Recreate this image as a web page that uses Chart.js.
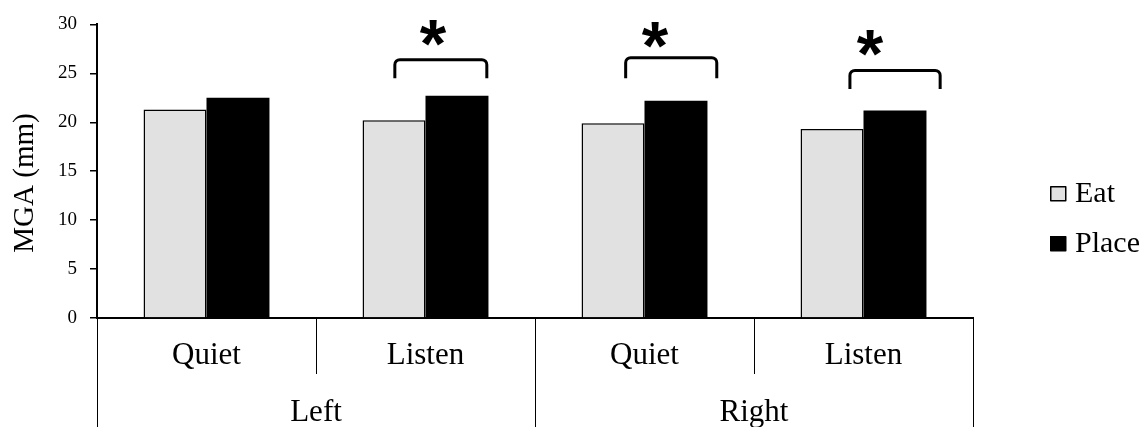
<!DOCTYPE html>
<html>
<head>
<meta charset="utf-8">
<script src="https://cdn.jsdelivr.net/npm/chart.js@4.4.1/dist/chart.umd.min.js"></script>
<style>
  html, body { margin: 0; padding: 0; background: #fff; }
  #wrap { width: 1146px; height: 427px; position: relative; }
</style>
</head>
<body>
<div id="wrap"><canvas id="chart-mga"></canvas></div>
<script>
// MGA by hand / condition / action
const sides = ['Left', 'Right'];
const conditions = ['Quiet', 'Listen', 'Quiet', 'Listen'];
const eatValues = [21.3, 20.2, 19.9, 19.3];
const placeValues = [22.5, 22.7, 22.2, 21.2];
const yTitle = 'MGA (mm)';

// significance brackets: category index, bracket top / leg bottom / star centre (mm)
const sigIndex = [1, 2, 3];
const sigTop = [26.4, 26.6, 25.3];
const sigBottom = [24.5, 24.5, 23.4];
const sigStar = [29.1, 28.9, 28.1];

// bracket extent as fraction of category width, from category centre
const bracketFrom = [-0.14, -0.086, -0.062];
const bracketTo = [0.28, 0.33, 0.35];
const starShift = [0.034, 0.048, 0.03];

const serif = "'Liberation Serif', 'Times New Roman', serif";

const extras = {
    id: 'extras',
    afterDraw(chart) {
        const ctx = chart.ctx;
        const x = chart.scales.x;
        const y = chart.scales.y;
        const area = chart.chartArea;
        const n = conditions.length;
        const catW = (x.right - x.left) / n;
        const H = chart.height;

        ctx.save();

        // y title
        ctx.fillStyle = '#000';
        ctx.font = `29px ${serif}`;
        ctx.textAlign = 'center';
        ctx.textBaseline = 'middle';
        ctx.translate(25, 183);
        ctx.rotate(-Math.PI / 2);
        ctx.fillText(yTitle, 0, 0);
        ctx.setTransform(1, 0, 0, 1, 0, 0);

        // side group separators + labels
        const per = n / sides.length;
        ctx.strokeStyle = '#000';
        ctx.lineWidth = 1;
        for (let g = 0; g <= sides.length; g++) {
            const px = Math.round(x.left + g * per * catW) + 0.5;
            ctx.beginPath();
            ctx.moveTo(px, area.bottom);
            ctx.lineTo(px, H);
            ctx.stroke();
        }
        ctx.font = `31px ${serif}`;
        ctx.textBaseline = 'alphabetic';
        sides.forEach((s, g) => {
            const cx = x.left + (g + 0.5) * per * catW;
            ctx.fillText(s, cx, 421);
        });

        // brackets and stars
        ctx.lineWidth = 3;
        ctx.lineJoin = 'round';
        sigIndex.forEach((idx, i) => {
            const c = x.getPixelForValue(idx);
            const x1 = c + bracketFrom[i] * catW;
            const x2 = c + bracketTo[i] * catW;
            const yt = y.getPixelForValue(sigTop[i]);
            const yb = y.getPixelForValue(sigBottom[i]);
            const r = 5;
            ctx.beginPath();
            ctx.moveTo(x1, yb);
            ctx.lineTo(x1, yt + r);
            ctx.arcTo(x1, yt, x1 + r, yt, r);
            ctx.lineTo(x2 - r, yt);
            ctx.arcTo(x2, yt, x2, yt + r, r);
            ctx.lineTo(x2, yb);
            ctx.stroke();

            ctx.font = `bold 68px 'Liberation Sans', Arial, sans-serif`;
            ctx.textAlign = 'center';
            ctx.textBaseline = 'alphabetic';
            const m = ctx.measureText('*');
            const sy = y.getPixelForValue(sigStar[i]);
            const base = sy + (m.actualBoundingBoxAscent - m.actualBoundingBoxDescent) / 2;
            ctx.fillText('*', c + starShift[i] * catW, base);
        });

        // legend
        ctx.font = `30px ${serif}`;
        ctx.textAlign = 'left';
        ctx.textBaseline = 'alphabetic';
        chart.data.datasets.forEach((ds, i) => {
            const by = 186 + i * 50;
            ctx.fillStyle = ds.backgroundColor;
            ctx.fillRect(1050, by, 16, 15);
            ctx.strokeStyle = '#000';
            ctx.lineWidth = 1.5;
            ctx.strokeRect(1050.75, by + 0.75, 15, 14);
            ctx.fillStyle = '#000';
            ctx.fillText(ds.label, 1075, by + 16);
        });

        ctx.restore();
    }
};

const options = {
    responsive: true,
    maintainAspectRatio: false,
    animation: false,
    layout: { padding: { top: 24, right: 173, bottom: 0, left: 0 } },
    plugins: { legend: { display: false }, tooltip: { enabled: false } },
    datasets: {
        bar: { categoryPercentage: 0.575, barPercentage: 1 }
    },
    scales: {
        x: {
            grid: { drawOnChartArea: false, drawTicks: true, tickLength: 56, color: '#000', lineWidth: 1, offset: true },
            border: { color: '#000', width: 2 },
            ticks: { color: '#000', font: { family: serif, size: 31 }, padding: -37, maxRotation: 0 },
            afterFit(scale) { scale.height = 109; }
        },
        y: {
            min: 0,
            max: 30,
            ticks: { stepSize: 5, color: '#000', font: { family: serif, size: 19 }, padding: 13 },
            grid: { drawOnChartArea: false, drawTicks: true, tickLength: 7, color: '#000', lineWidth: 1.5 },
            border: { color: '#000', width: 2 },
            afterFit(scale) { scale.width = 97; }
        }
    }
};

new Chart(document.getElementById('chart-mga'), {
    type: 'bar',
    data: {
        labels: conditions,
        datasets: [
            { label: 'Eat', data: eatValues, backgroundColor: '#e1e1e1', borderColor: '#000', borderWidth: 1.5 },
            { label: 'Place', data: placeValues, backgroundColor: '#000', borderColor: '#000', borderWidth: 0 }
        ]
    },
    options,
    plugins: [extras]
});
</script>
</body>
</html>
